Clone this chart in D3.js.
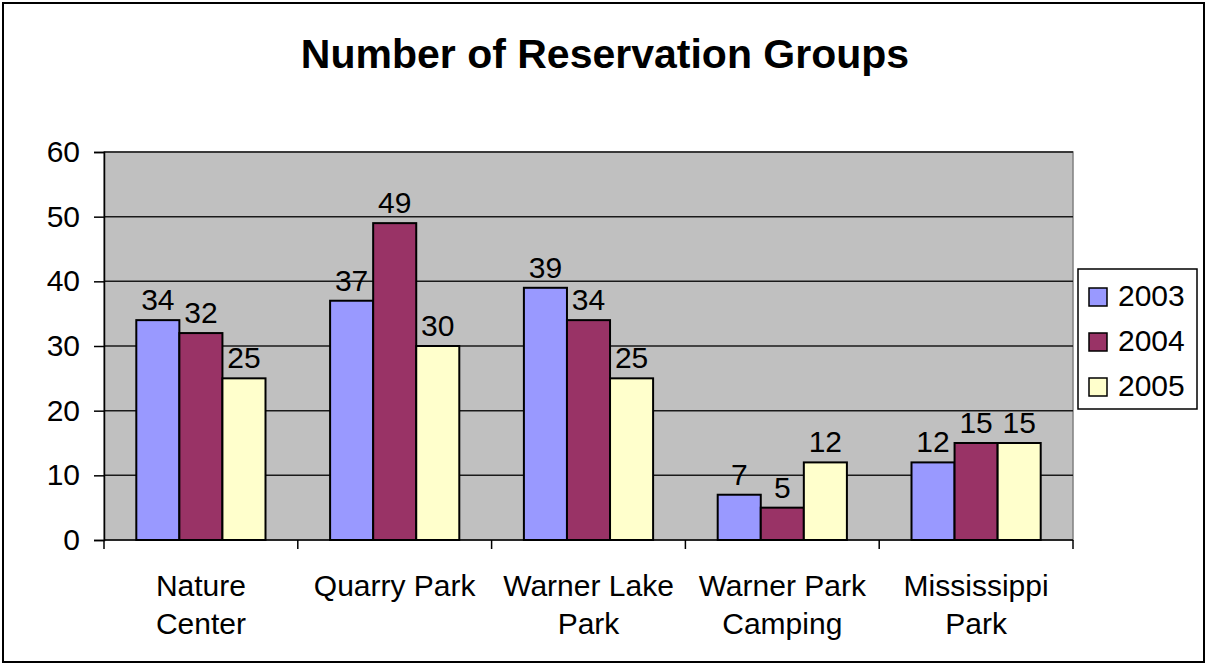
<!DOCTYPE html>
<html>
<head>
<meta charset="utf-8">
<script src="https://cdn.jsdelivr.net/npm/d3@7"></script>
<style>
  body { margin: 0; background: #fff; }
  svg { display: block; font-family: "Liberation Sans", Arial, sans-serif; }
</style>
</head>
<body>
<svg id="chart"></svg>
<script>
// data
let categories = [["Nature", "Center"], ["Quarry Park"], ["Warner Lake", "Park"], ["Warner Park", "Camping"], ["Mississippi", "Park"]];
let seriesNames = ["2003", "2004", "2005"];
let values2003 = [34, 37, 39, 7, 12];
let values2004 = [32, 49, 34, 5, 15];
let values2005 = [25, 30, 25, 12, 15];
let yTicks = [0, 10, 20, 30, 40, 50, 60];
let colors = ["#9999ff", "#993366", "#ffffcc"];

let seriesValues = [values2003, values2004, values2005];
let catKeys = categories.map((c) => c.join(" "));

let w = 1206, h = 664;
let plot = { left: 104, right: 1073, top: 152, bottom: 540 };
let fontSize = 30;

let svg = d3.select('#chart')
  .attr('width', w)
  .attr('height', h);

// outer border
svg.append('rect')
  .attr('x', 3).attr('y', 3)
  .attr('width', w - 5).attr('height', h - 5)
  .attr('fill', '#fff')
  .attr('stroke', '#000')
  .attr('stroke-width', 2);

// title
svg.append('text')
  .attr('x', 605).attr('y', 68)
  .attr('text-anchor', 'middle')
  .attr('font-size', 41)
  .attr('font-weight', 'bold')
  .text('Number of Reservation Groups');

let xScale = d3.scaleBand()
  .domain(catKeys)
  .range([plot.left, plot.right])
  .padding(0);

// gap width 150% -> outer padding 0.75 of a bar
let xSub = d3.scaleBand()
  .domain(seriesNames)
  .range([0, xScale.bandwidth()])
  .paddingInner(0)
  .paddingOuter(0.75);

let yScale = d3.scaleLinear()
  .domain([0, 60])
  .range([plot.bottom, plot.top]);

// plot background
svg.append('rect')
  .attr('x', plot.left).attr('y', plot.top)
  .attr('width', plot.right - plot.left)
  .attr('height', plot.bottom - plot.top)
  .attr('fill', '#c0c0c0')
  .attr('stroke', '#808080')
  .attr('stroke-width', 1.5);

// gridlines
svg.append('g')
  .selectAll('line')
  .data(yTicks.filter((t) => t > 0))
  .enter()
  .append('line')
  .attr('x1', plot.left).attr('x2', plot.right)
  .attr('y1', (d) => yScale(d)).attr('y2', (d) => yScale(d))
  .attr('stroke', '#1a1a1a')
  .attr('stroke-width', 1.5);

// AXES
let yAxis = svg.append('g')
  .attr('transform', `translate(${plot.left},0)`)
  .call(d3.axisLeft(yScale).tickValues(yTicks).tickSize(10).tickPadding(14));
yAxis.select('.domain').attr('stroke', '#000').attr('stroke-width', 1.5);
yAxis.selectAll('.tick line').attr('stroke', '#000').attr('stroke-width', 1.5);
yAxis.selectAll('.tick text')
  .attr('font-size', fontSize)
  .attr('font-family', '"Liberation Sans", Arial, sans-serif')
  .attr('fill', '#000');

// category boundary ticks on x axis
let boundaries = catKeys.map((k) => xScale(k)).concat([plot.right]);
svg.append('line')
  .attr('x1', plot.left).attr('x2', plot.right)
  .attr('y1', plot.bottom).attr('y2', plot.bottom)
  .attr('stroke', '#000').attr('stroke-width', 1.5);
svg.append('g')
  .selectAll('line')
  .data(boundaries)
  .enter()
  .append('line')
  .attr('x1', (d) => d).attr('x2', (d) => d)
  .attr('y1', plot.bottom).attr('y2', plot.bottom + 9)
  .attr('stroke', '#000').attr('stroke-width', 1.5);

// category labels
let catLabels = svg.append('g')
  .selectAll('text')
  .data(categories)
  .enter()
  .append('text')
  .attr('x', (d, i) => xScale(catKeys[i]) + xScale.bandwidth() / 2)
  .attr('y', 596)
  .attr('text-anchor', 'middle')
  .attr('font-size', fontSize);
catLabels.selectAll('tspan')
  .data((d) => d)
  .enter()
  .append('tspan')
  .attr('x', function() { return d3.select(this.parentNode).attr('x'); })
  .attr('dy', (d, i) => i === 0 ? 0 : 38)
  .text((d) => d);

// bars
let rows = [];
seriesValues.forEach((vals, s) => {
  vals.forEach((v, i) => rows.push({ cat: catKeys[i], series: seriesNames[s], value: v, color: colors[s] }));
});

svg.append('g')
  .selectAll('rect')
  .data(rows)
  .enter()
  .append('rect')
  .attr('x', (d) => xScale(d.cat) + xSub(d.series))
  .attr('y', (d) => yScale(d.value))
  .attr('width', xSub.bandwidth())
  .attr('height', (d) => yScale(0) - yScale(d.value))
  .attr('fill', (d) => d.color)
  .attr('stroke', '#000')
  .attr('stroke-width', 2);

// value labels
svg.append('g')
  .selectAll('text')
  .data(rows)
  .enter()
  .append('text')
  .attr('x', (d) => xScale(d.cat) + xSub(d.series) + xSub.bandwidth() / 2)
  .attr('y', (d) => yScale(d.value) - 10)
  .attr('text-anchor', 'middle')
  .attr('font-size', fontSize)
  .text((d) => d.value);

// legend
let legend = svg.append('g');
legend.append('rect')
  .attr('x', 1078).attr('y', 269)
  .attr('width', 119).attr('height', 140)
  .attr('fill', '#fff')
  .attr('stroke', '#000')
  .attr('stroke-width', 1.5);

let legendRows = legend.selectAll('g')
  .data(seriesNames)
  .enter()
  .append('g')
  .attr('transform', (d, i) => `translate(1089, ${297 + i * 45})`);
legendRows.append('rect')
  .attr('x', 0).attr('y', -9)
  .attr('width', 18).attr('height', 18)
  .attr('fill', (d, i) => colors[i])
  .attr('stroke', '#000')
  .attr('stroke-width', 1.5);
legendRows.append('text')
  .attr('x', 29).attr('y', 9)
  .attr('font-size', fontSize)
  .text((d) => d);
</script>
</body>
</html>
